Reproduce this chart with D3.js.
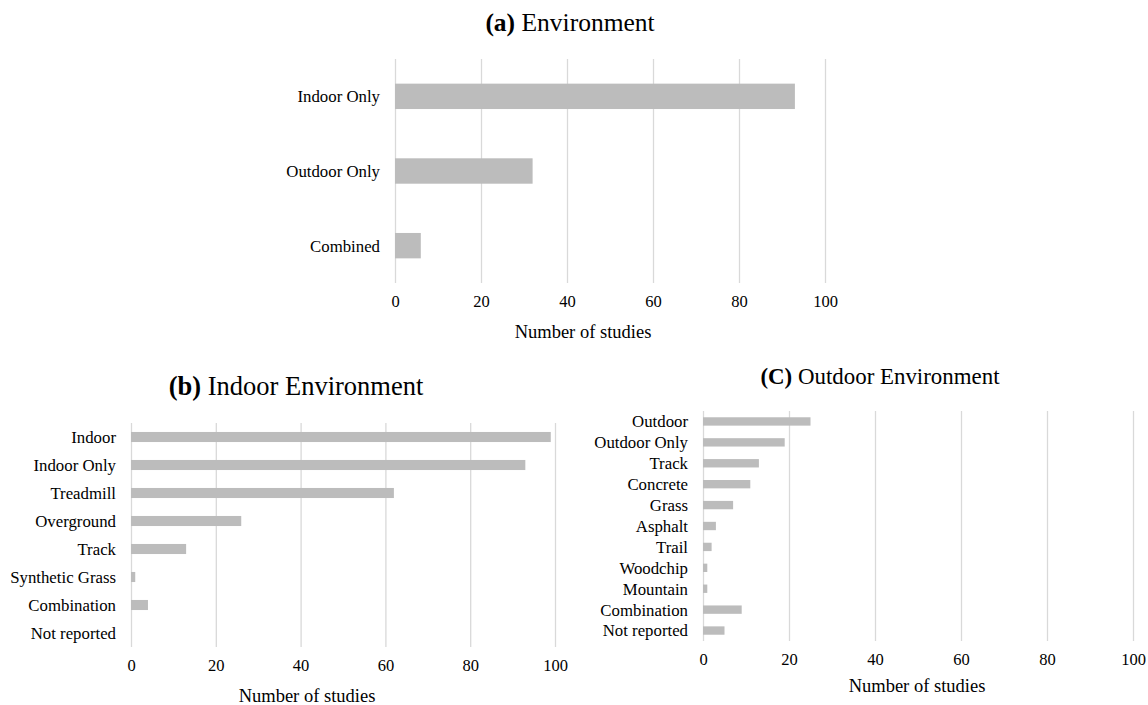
<!DOCTYPE html>
<html>
<head>
<meta charset="utf-8">
<script src="https://cdn.jsdelivr.net/npm/d3@7"></script>
<style>
  body { margin: 0; background: #fff; }
  svg text { font-family: "Liberation Serif", "Times New Roman", serif; fill: #000; }
</style>
</head>
<body>
<div id="chart"></div>
<script>
// values
var envCats = ["Indoor Only", "Outdoor Only", "Combined"];
var envVals = [93, 32, 6];

var indoorCats = ["Indoor", "Indoor Only", "Treadmill", "Overground", "Track",
                  "Synthetic Grass", "Combination", "Not reported"];
var indoorVals = [99, 93, 62, 26, 13, 1, 4, 0];

var outdoorCats = ["Outdoor", "Outdoor Only", "Track", "Concrete", "Grass", "Asphalt",
                   "Trail", "Woodchip", "Mountain", "Combination", "Not reported"];
var outdoorVals = [25, 19, 13, 11, 7, 3, 2, 1, 1, 9, 5];

var xTicks = [0, 20, 40, 60, 80, 100];

var svg = d3.select("#chart")
    .append("svg")
    .attr("width", 1148)
    .attr("height", 705);

function drawPanel(p) {
    var x = d3.scaleLinear().domain([0, 100]).range([p.left, p.right]);
    var y = d3.scaleBand().domain(p.cats).range([p.top, p.bottom]).paddingInner(p.pad).paddingOuter(p.pad / 2);

    var g = svg.append("g");

    // gridlines + tick labels
    var xAxis = g.append("g")
        .attr("transform", "translate(0," + p.bottom + ")")
        .call(d3.axisBottom(x).tickValues(xTicks).tickSize(-(p.bottom - p.top)).tickPadding(p.tickPad));
    xAxis.select(".domain").remove();
    xAxis.selectAll(".tick line").attr("stroke", "#d9d9d9").attr("stroke-width", 1.3);
    xAxis.selectAll(".tick text")
        .style("font-size", p.tickSize + "px")
        .style("font-family", "'Liberation Serif', serif")
        .attr("fill", "#000");

    // category labels
    g.selectAll(".cat")
        .data(p.cats)
        .enter()
        .append("text")
        .attr("x", p.left - 15)
        .attr("y", function(d) { return y(d) + y.bandwidth() / 2; })
        .attr("dy", "0.35em")
        .attr("text-anchor", "end")
        .style("font-size", p.labelSize + "px")
        .text(function(d) { return d; });

    // bars
    g.selectAll("rect")
        .data(p.vals)
        .enter()
        .append("rect")
        .attr("x", x(0))
        .attr("y", function(d, i) { return y(p.cats[i]); })
        .attr("width", function(d) { return x(d) - x(0); })
        .attr("height", y.bandwidth())
        .attr("fill", "#bcbcbc");

    // axis title
    g.append("text")
        .attr("x", p.axisTitleX)
        .attr("y", p.axisTitleY)
        .attr("text-anchor", "middle")
        .style("font-size", p.axisTitleSize + "px")
        .text("Number of studies");

    // panel title
    var t = g.append("text")
        .attr("x", p.titleX)
        .attr("y", p.titleY)
        .attr("text-anchor", "middle")
        .style("font-size", p.titleSize + "px");
    t.append("tspan").style("font-weight", "bold").text(p.tag);
    t.append("tspan").text(" " + p.title);
}

drawPanel({
    cats: envCats, vals: envVals,
    left: 395, right: 825, top: 59, bottom: 283, pad: 0.66,
    tickPad: 12, tickSize: 16.5, labelSize: 16.8,
    axisTitleX: 583, axisTitleY: 338, axisTitleSize: 18.5,
    titleX: 570, titleY: 31, titleSize: 25.5,
    tag: "(a)", title: "Environment"
});

drawPanel({
    cats: indoorCats, vals: indoorVals,
    left: 131, right: 555, top: 423, bottom: 647, pad: 0.64,
    tickPad: 12, tickSize: 16.5, labelSize: 16.8,
    axisTitleX: 307, axisTitleY: 702, axisTitleSize: 18.5,
    titleX: 296, titleY: 395, titleSize: 26.5,
    tag: "(b)", title: "Indoor Environment"
});

drawPanel({
    cats: outdoorCats, vals: outdoorVals,
    left: 703, right: 1133, top: 411, bottom: 641, pad: 0.6,
    tickPad: 12, tickSize: 16.5, labelSize: 16.8,
    axisTitleX: 917, axisTitleY: 692, axisTitleSize: 18.5,
    titleX: 880, titleY: 384, titleSize: 22.9,
    tag: "(C)", title: "Outdoor Environment"
});
</script>
</body>
</html>
